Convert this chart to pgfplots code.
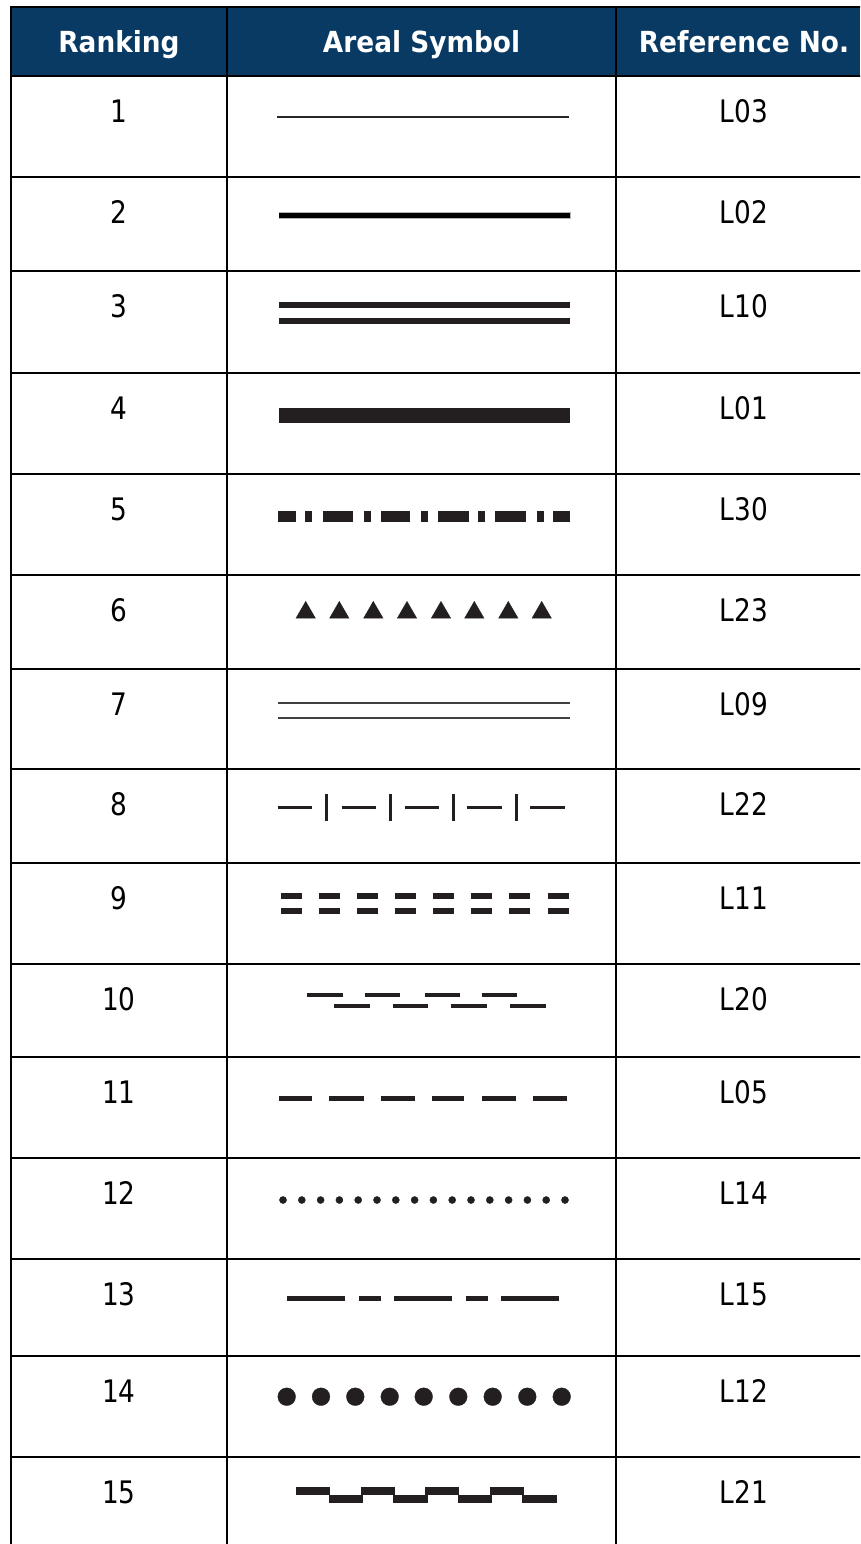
\documentclass[border=0pt]{standalone}
\usepackage{fontspec}
\usepackage{pgfplots}
\pgfplotsset{compat=1.18}
\newfontfamily\hdrfont{DejaVu Sans}[FakeStretch=0.91]
\newfontfamily\bodyfont{DejaVu Sans}[FakeStretch=0.85]
\definecolor{hdr}{RGB}{8,58,99}
\definecolor{ink}{RGB}{35,31,32}
\newcommand{\hd}[1]{\hdrfont\bfseries\fontsize{29}{30}\selectfont #1}
\newcommand{\bd}[1]{\bodyfont\fontsize{31}{32}\selectfont #1}
\begin{document}
\begin{tikzpicture}
\begin{axis}[
  width=860pt, height=1544pt, scale only axis,
  xmin=0, xmax=860, ymin=0, ymax=1544, y dir=reverse,
  hide axis, clip=true, unbounded coords=jump,
  seg/.style={ink, line width=#1, line cap=butt, mark=none},
]
% header background
\addplot[fill=hdr, draw=none] coordinates {(11,7) (860,7) (860,76) (11,76)} -- cycle;

% grid lines
\addplot[black, line width=2.5pt, line cap=rect, mark=none] coordinates {
(11,7) (860,7) (0,nan)
(11,76) (860,76) (0,nan)
(11,177) (860,177) (0,nan)
(11,271) (860,271) (0,nan)
(11,373) (860,373) (0,nan)
(11,474) (860,474) (0,nan)
(11,575) (860,575) (0,nan)
(11,669) (860,669) (0,nan)
(11,769) (860,769) (0,nan)
(11,863) (860,863) (0,nan)
(11,964) (860,964) (0,nan)
(11,1057) (860,1057) (0,nan)
(11,1158) (860,1158) (0,nan)
(11,1259) (860,1259) (0,nan)
(11,1356) (860,1356) (0,nan)
(11,1457) (860,1457) (0,nan)
(11,7) (11,1550) (0,nan)
(227,7) (227,1550) (0,nan)
(616,7) (616,1550)
};

% header text
\node[anchor=base, text=white] at (axis cs:119,52.7) {\hd{Ranking}};
\node[anchor=base, text=white] at (axis cs:421.5,52.7) {\hd{Areal Symbol}};
\node[anchor=base, text=white] at (axis cs:744,52.7) {\hd{Reference No.}};

% body text
\node[anchor=base] at (axis cs:119,122.7) {\bd{1}};
\node[anchor=base] at (axis cs:744,122.7) {\bd{L03}};
\node[anchor=base] at (axis cs:119,223.4) {\bd{2}};
\node[anchor=base] at (axis cs:744,223.4) {\bd{L02}};
\node[anchor=base] at (axis cs:119,317.7) {\bd{3}};
\node[anchor=base] at (axis cs:744,317.7) {\bd{L10}};
\node[anchor=base] at (axis cs:119,419.7) {\bd{4}};
\node[anchor=base] at (axis cs:744,419.7) {\bd{L01}};
\node[anchor=base] at (axis cs:119,520.7) {\bd{5}};
\node[anchor=base] at (axis cs:744,520.7) {\bd{L30}};
\node[anchor=base] at (axis cs:119,621.7) {\bd{6}};
\node[anchor=base] at (axis cs:744,621.7) {\bd{L23}};
\node[anchor=base] at (axis cs:119,715.2) {\bd{7}};
\node[anchor=base] at (axis cs:744,715.2) {\bd{L09}};
\node[anchor=base] at (axis cs:119,815.7) {\bd{8}};
\node[anchor=base] at (axis cs:744,815.7) {\bd{L22}};
\node[anchor=base] at (axis cs:119,909.2) {\bd{9}};
\node[anchor=base] at (axis cs:744,909.2) {\bd{L11}};
\node[anchor=base] at (axis cs:119,1010.2) {\bd{10}};
\node[anchor=base] at (axis cs:744,1010.2) {\bd{L20}};
\node[anchor=base] at (axis cs:119,1103.7) {\bd{11}};
\node[anchor=base] at (axis cs:744,1103.7) {\bd{L05}};
\node[anchor=base] at (axis cs:119,1204.4) {\bd{12}};
\node[anchor=base] at (axis cs:744,1204.4) {\bd{L14}};
\node[anchor=base] at (axis cs:119,1305.4) {\bd{13}};
\node[anchor=base] at (axis cs:744,1305.4) {\bd{L15}};
\node[anchor=base] at (axis cs:119,1402.4) {\bd{14}};
\node[anchor=base] at (axis cs:744,1402.4) {\bd{L12}};
\node[anchor=base] at (axis cs:119,1503.4) {\bd{15}};
\node[anchor=base] at (axis cs:744,1503.4) {\bd{L21}};

% 1: L03 thin line
\addplot[black!85, line width=2.4pt, mark=none] coordinates {(277,117) (568.5,117)};
% 2: L02 thick soft line
\addplot[black!30, line width=7pt, mark=none] coordinates {(278.5,215.7) (570.5,215.7)};
\addplot[black, line width=4.5pt, mark=none] coordinates {(279,215.7) (570,215.7)};
% 3: L10 double line
\addplot[seg=6pt] coordinates {(279.3,304.5) (570,304.5) (0,nan) (279.3,321.3) (570,321.3)};
% 4: L01 heavy line
\addplot[seg=15pt] coordinates {(279.3,415.2) (570,415.2)};
% 5: L30 dash-dot
\addplot[seg=10.7pt] coordinates {
(278.3,516.7) (296,516.7) (0,nan) (305,516.7) (312.3,516.7) (0,nan)
(322.7,516.7) (353.3,516.7) (0,nan) (363.7,516.7) (370.7,516.7) (0,nan)
(381,516.7) (410,516.7) (0,nan) (421,516.7) (427.7,516.7) (0,nan)
(438.3,516.7) (469,516.7) (0,nan) (478,516.7) (485,516.7) (0,nan)
(495.3,516.7) (526,516.7) (0,nan) (536.7,516.7) (544,516.7) (0,nan)
(553.3,516.7) (570,516.7)};
% 6: L23 triangles
\addplot[only marks, mark=triangle*, mark size=11.2pt, mark options={ink, fill=ink, line width=0.4pt}] coordinates {
(305.7,612.6) (339.3,612.6) (373.3,612.6) (407,612.6) (441,612.6) (474.3,612.6) (508.3,612.6) (541.7,612.6)};
% 7: L09 thin double line
\addplot[black!75, line width=1.7pt, mark=none] coordinates {(278.3,703) (570,703) (0,nan) (278.3,718) (570,718)};
% 8: L22 dash with ticks
\addplot[seg=3pt] coordinates {
(278.3,807.3) (312.3,807.3) (0,nan) (341.7,807.3) (375.7,807.3) (0,nan)
(404.7,807.3) (438.7,807.3) (0,nan) (467,807.3) (502,807.3) (0,nan)
(530,807.3) (565.3,807.3) (0,nan)
(326.7,794) (326.7,820.7) (0,nan) (390,794) (390,820.7) (0,nan)
(453.3,794) (453.3,820.7) (0,nan) (516.3,794) (516.3,820.7)};
% 9: L11 double dashes
\addplot[seg=5.7pt] coordinates {
(281,896.3) (302,896.3) (0,nan) (319,896.3) (340,896.3) (0,nan)
(357.3,896.3) (378.3,896.3) (0,nan) (395.3,896.3) (416.3,896.3) (0,nan)
(433.3,896.3) (454.3,896.3) (0,nan) (471.3,896.3) (492.3,896.3) (0,nan)
(509.3,896.3) (530.3,896.3) (0,nan) (547.7,896.3) (568.7,896.3) (0,nan)
(281,911) (302,911) (0,nan) (319,911) (340,911) (0,nan)
(357.3,911) (378.3,911) (0,nan) (395.3,911) (416.3,911) (0,nan)
(433.3,911) (454.3,911) (0,nan) (471.3,911) (492.3,911) (0,nan)
(509.3,911) (530.3,911) (0,nan) (547.7,911) (568.7,911)};
% 10: L20 staggered dashes
\addplot[seg=3.7pt] coordinates {
(307.3,995) (342.7,995) (0,nan) (364.7,995) (400,995) (0,nan)
(424.7,995) (460,995) (0,nan) (482,995) (517.3,995) (0,nan)
(334,1006.3) (369.7,1006.3) (0,nan) (392.7,1006.3) (428.3,1006.3) (0,nan)
(451.3,1006.3) (487,1006.3) (0,nan) (510,1006.3) (545.7,1006.3)};
% 11: L05 dashes
\addplot[seg=4.7pt] coordinates {
(279.3,1098.3) (312.3,1098.3) (0,nan) (329.3,1098.3) (363.7,1098.3) (0,nan)
(380.7,1098.3) (414.7,1098.3) (0,nan) (432,1098.3) (464.3,1098.3) (0,nan)
(482,1098.3) (515.7,1098.3) (0,nan) (533.3,1098.3) (567,1098.3)};
% 12: L14 small dots
\addplot[only marks, mark=*, mark size=3.6pt, mark options={ink, fill=ink, line width=0.3pt}] coordinates {
(283,1200) (301.8,1200) (320.6,1200) (339.4,1200) (358.2,1200) (377,1200)
(395.8,1200) (414.6,1200) (433.4,1200) (452.2,1200) (471,1200) (489.8,1200)
(508.6,1200) (527.4,1200) (546.2,1200) (565,1200)};
% 13: L15 long-short dashes
\addplot[seg=5pt] coordinates {
(287.3,1298.7) (344.7,1298.7) (0,nan) (358.7,1298.7) (381.3,1298.7) (0,nan)
(394.3,1298.7) (452.3,1298.7) (0,nan) (465.7,1298.7) (488.3,1298.7) (0,nan)
(501.3,1298.7) (559.3,1298.7)};
% 14: L12 large dots
\addplot[only marks, mark=*, mark size=8.9pt, mark options={ink, fill=ink, line width=0.3pt}] coordinates {
(286.7,1396.7) (321,1396.7) (355.3,1396.7) (389.7,1396.7) (423.7,1396.7)
(458.3,1396.7) (492.7,1396.7) (527.3,1396.7) (561.7,1396.7)};
% 15: L21 square wave
\addplot[seg=8.3pt] coordinates {
(295.7,1490.8) (330,1490.8) (0,nan) (360.7,1490.8) (395,1490.8) (0,nan)
(425,1490.8) (459.3,1490.8) (0,nan) (489.7,1490.8) (524,1490.8)};
\addplot[seg=7.7pt] coordinates {
(329,1498.8) (363.3,1498.8) (0,nan) (393.3,1498.8) (427.7,1498.8) (0,nan)
(457.7,1498.8) (492,1498.8) (0,nan) (522.3,1498.8) (556.7,1498.8)};
\end{axis}
\pgfresetboundingbox
\useasboundingbox (current axis.south west) rectangle (current axis.north east);
\end{tikzpicture}
\end{document}
